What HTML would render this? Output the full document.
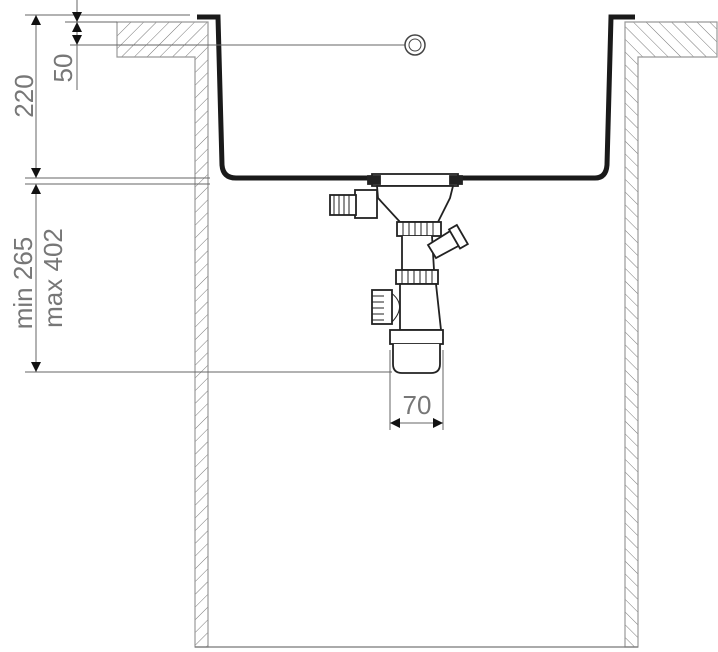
<!DOCTYPE html>
<html><head><style>
html,body{margin:0;padding:0;background:#fff;width:718px;height:652px;overflow:hidden}
svg{display:block}
text{font-family:"Liberation Sans",sans-serif;fill:#777;font-size:26px}
</style></head><body>
<svg width="718" height="652" viewBox="0 0 718 652" xmlns="http://www.w3.org/2000/svg">
<defs>
<pattern id="hl" width="9" height="9" patternUnits="userSpaceOnUse" patternTransform="rotate(45)">
<line x1="0" y1="0" x2="0" y2="9" stroke="#555" stroke-width="0.8"/></pattern>
<pattern id="hr" width="9" height="9" patternUnits="userSpaceOnUse" patternTransform="rotate(-45)">
<line x1="0" y1="0" x2="0" y2="9" stroke="#555" stroke-width="0.8"/></pattern>
<marker id="a" viewBox="0 0 10 10" refX="10" refY="5" markerWidth="10" markerHeight="10" orient="auto-start-reverse" markerUnits="userSpaceOnUse"><path d="M0,0 L10,5 L0,10z" fill="#111"/></marker>
</defs>
<path d="M117,22 H208 V647 H195 V57 H117 Z" fill="url(#hl)" stroke="#999" stroke-width="1.2"/>
<path d="M625,22 H717 V57 H638 V647 H625 Z" fill="url(#hr)" stroke="#999" stroke-width="1.2"/>
<line x1="195" y1="647" x2="638" y2="647" stroke="#777" stroke-width="1.2"/>
<path d="M197,17 H218 L222,165 Q223,178 236,178 H372 M458,178 H595 Q606,178 607,165 L611,17 H635" fill="none" stroke="#1a1a1a" stroke-width="5"/>
<g stroke="#666" stroke-width="1" fill="none">
<line x1="25" y1="15" x2="190" y2="15"/>
<line x1="65" y1="22" x2="117" y2="22"/>
<line x1="70" y1="45" x2="405" y2="45"/>
<line x1="25" y1="178" x2="210" y2="178"/>
<line x1="25" y1="184" x2="210" y2="184"/>
<line x1="25" y1="372" x2="392" y2="372"/>
<line x1="36" y1="15" x2="36" y2="178" marker-start="url(#a)" marker-end="url(#a)"/>
<line x1="36" y1="184" x2="36" y2="372" marker-start="url(#a)" marker-end="url(#a)"/>
<line x1="77" y1="0" x2="77" y2="22" marker-end="url(#a)"/>
<line x1="77" y1="22" x2="77" y2="45" marker-start="url(#a)" marker-end="url(#a)"/>
<line x1="77" y1="45" x2="77" y2="90"/>
<line x1="390" y1="350" x2="390" y2="430"/>
<line x1="443" y1="350" x2="443" y2="430"/>
<line x1="390" y1="423" x2="443" y2="423" marker-start="url(#a)" marker-end="url(#a)"/>
</g>
<circle cx="415" cy="45" r="10" fill="#fff" stroke="#444" stroke-width="1.5"/>
<circle cx="415" cy="45" r="6" fill="none" stroke="#444" stroke-width="1"/>
<g stroke="#222" stroke-width="1.8" fill="#fff">
<rect x="372" y="174" width="86" height="12"/>
<rect x="368" y="176" width="12" height="8" fill="#222"/>
<rect x="450" y="176" width="12" height="8" fill="#222"/>
<path d="M377,186 H453 L450,198 L438,222 H400 L378,198 Z"/>
<rect x="355" y="190" width="22" height="28"/>
<rect x="330" y="195" width="26" height="20"/>
<path d="M334,195 V215 M339,195 V215 M344,195 V215 M349,195 V215" stroke-width="1"/>
<rect x="397" y="222" width="44" height="14"/>
<path d="M403,222 V236 M409,222 V236 M415,222 V236 M421,222 V236 M427,222 V236 M433,222 V236" stroke-width="1"/>
<path d="M402,236 V270 H434 L432,236"/>
<path d="M428,245 L455,228 L462,244 L436,258 Z"/>
<rect x="454" y="226" width="9" height="22" transform="rotate(-30 458 237)"/>
<rect x="396" y="270" width="42" height="14"/>
<path d="M402,270 V284 M408,270 V284 M414,270 V284 M420,270 V284 M426,270 V284 M432,270 V284" stroke-width="1"/>
<path d="M400,284 V330 H441 L436,284 Z"/>
<path d="M390,292 Q408,305 392,322" fill="none" stroke-width="1"/>
<rect x="372" y="290" width="20" height="34"/>
<path d="M372,296 H384 M372,302 H384 M372,308 H384 M372,314 H384 M372,320 H384" stroke-width="1"/>
<rect x="390" y="330" width="53" height="14"/>
<path d="M393,344 V364 Q393,373 402,373 H431 Q440,373 440,364 V344"/>
</g>
<text transform="translate(33,96) rotate(-90)" text-anchor="middle">220</text>
<text transform="translate(72,68) rotate(-90)" text-anchor="middle">50</text>
<text transform="translate(32,283) rotate(-90)" text-anchor="middle">min 265</text>
<text transform="translate(62,278) rotate(-90)" text-anchor="middle">max 402</text>
<text x="417" y="414" text-anchor="middle">70</text>
</svg>
</body></html>
